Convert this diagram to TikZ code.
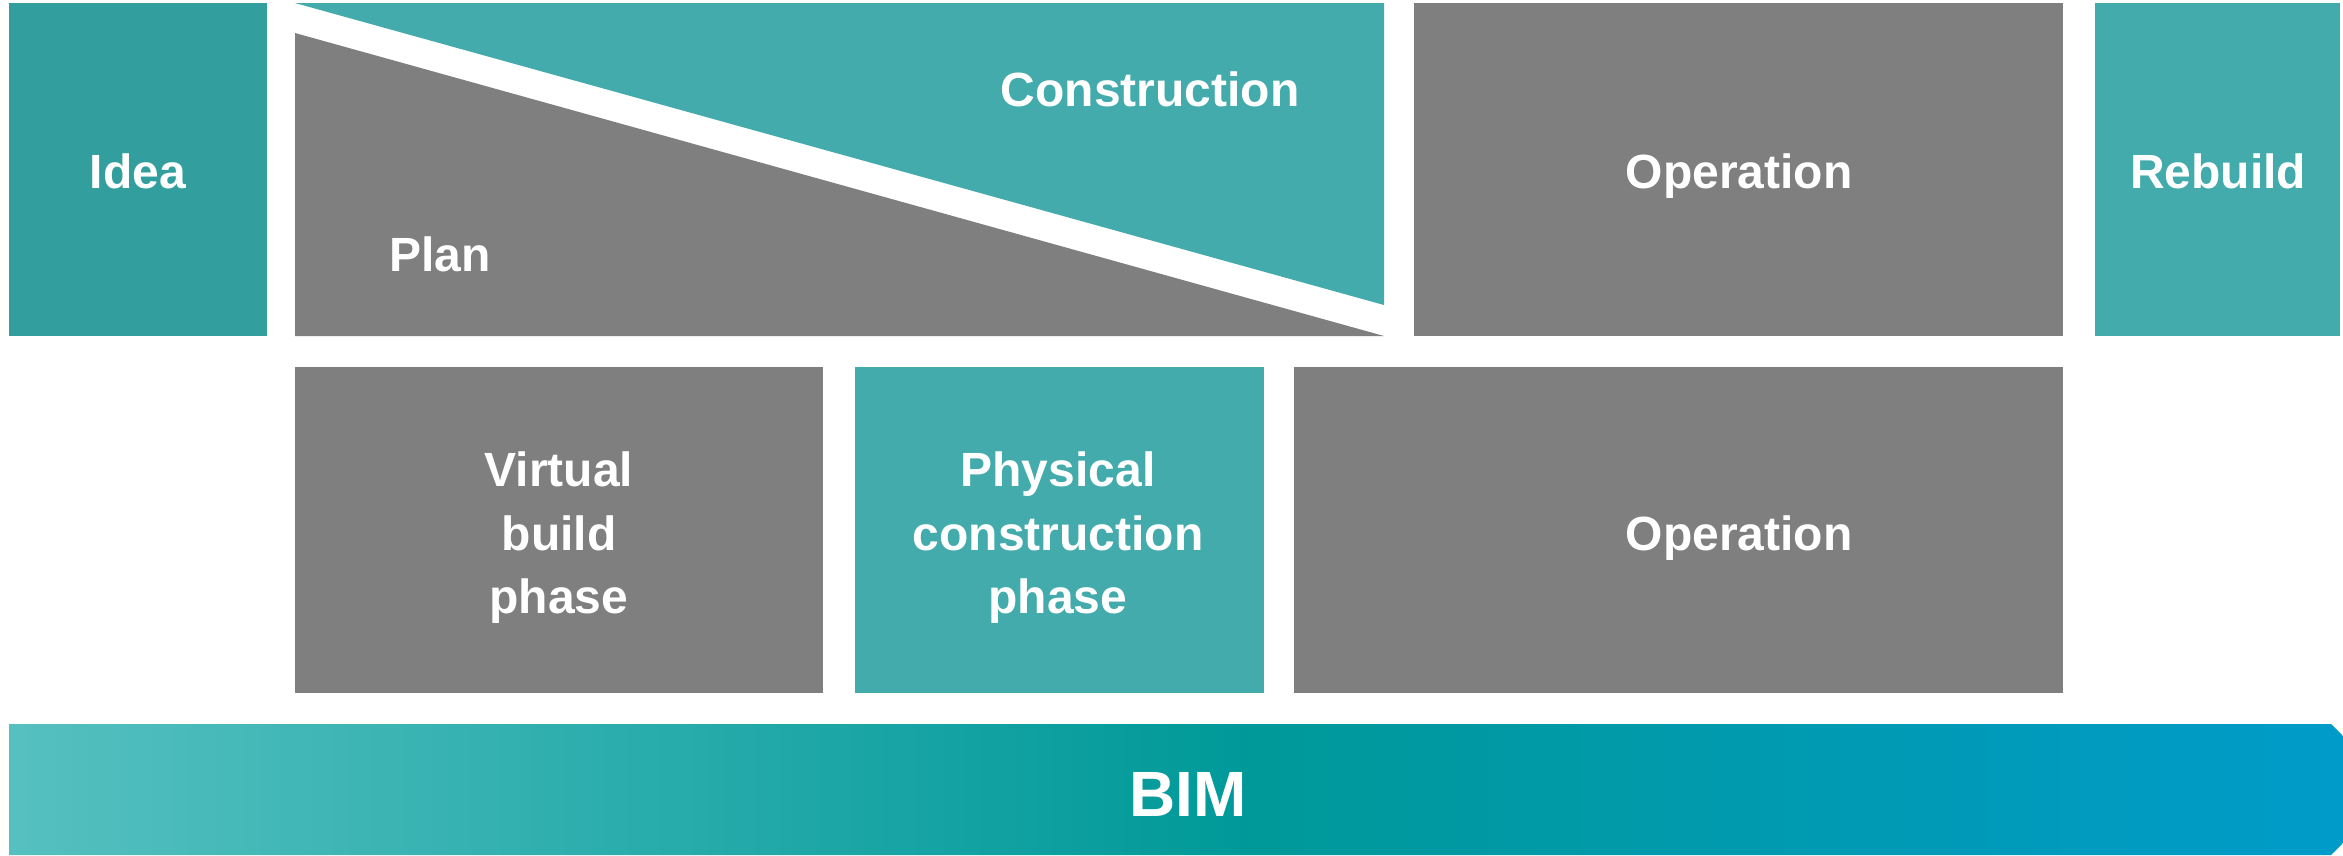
\documentclass[tikz,border=0pt]{standalone}
\usepackage{fontspec}
\setmainfont{Liberation Sans}
\definecolor{ideateal}{HTML}{329F9E}
\definecolor{teal}{HTML}{43ABAB}
\definecolor{blockgray}{HTML}{7F7F7F}
\pgfdeclarehorizontalshading{bimshade}{100bp}{rgb(0bp)=(0.337,0.753,0.753); rgb(25bp)=(0.337,0.753,0.753); rgb(51.5bp)=(0,0.6,0.6); rgb(75bp)=(0,0.608,0.788); rgb(100bp)=(0,0.608,0.788)}
\begin{document}
\begin{tikzpicture}[x=1pt,y=-1pt,
  lbl/.style={text=white,font=\fontsize{48}{63.5}\selectfont\bfseries,inner sep=0pt,outer sep=0pt,align=center},
  blk/.style={inner sep=0pt,outer sep=0pt,anchor=north west,draw=none}]
\useasboundingbox[fill=white] (0,0) rectangle (2343,855);
% top row
\node[blk,fill=ideateal,minimum width=258pt,minimum height=333pt] (idea) at (9,3) {};
\fill[teal] (295,3) coordinate (cTL) -- (1384,3) coordinate (cTR) -- (1384,305) coordinate (cBR) -- cycle;
\fill[blockgray] (295,33) coordinate (pTL) -- (1384,336) coordinate (pBR) -- (295,336) coordinate (pBL) -- cycle;
\node[blk,fill=blockgray,minimum width=649pt,minimum height=333pt] (op1) at (1414,3) {};
\node[blk,fill=teal,minimum width=245pt,minimum height=333pt] (rebuild) at (2095,3) {};
% bottom row
\node[blk,fill=blockgray,minimum width=528pt,minimum height=326pt] (virtual) at (295,367) {};
\node[blk,fill=teal,minimum width=409pt,minimum height=326pt] (physical) at (855,367) {};
\node[blk,fill=blockgray,minimum width=769pt,minimum height=326pt] (op2) at (1294,367) {};
% BIM bar
\shade[shading=bimshade]
  (9,724) -- (2331,724) -- (2343,736) -- (2343,843) -- (2331,855) -- (9,855) -- cycle;
% labels
\node[lbl,anchor=base] (ideat) at (138,188) {Idea};
\node[lbl,anchor=base] (constructiont) at (1150,106) {Construction};
\node[lbl,anchor=base] (plant) at (440,271) {Plan};
\node[lbl,anchor=base] (op1t) at (1739,188) {Operation};
\node[lbl,anchor=base] (rebuildt) at (2218,188) {Rebuild};
\node[lbl,anchor=north] (virtualt) at (559,452) {Virtual\\build\\phase};
\node[lbl,anchor=north] (physicalt) at (1058,452) {Physical\\construction\\phase};
\node[lbl,anchor=base] (op2t) at (1739,550) {Operation};
\node[lbl,anchor=base,font=\fontsize{64}{70}\selectfont\bfseries] (bimt) at (1188,816) {BIM};
\end{tikzpicture}
\end{document}
